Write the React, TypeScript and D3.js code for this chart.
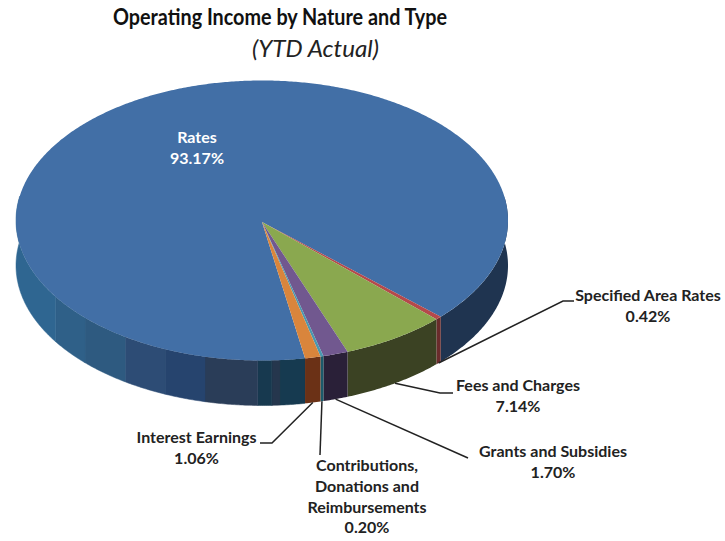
import React from "react";
import * as d3 from "d3";

// pie data, clockwise from the "Specified Area Rates" slice
const categories = [
  "Specified Area Rates",
  "Fees and Charges",
  "Grants and Subsidies",
  "Contributions, Donations and Reimbursements",
  "Interest Earnings",
  "Rates",
];
const values = [0.42, 7.14, 1.7, 0.2, 1.06, 93.17];

const topColors = ["#b5494b", "#8aa84f", "#71588f", "#4a98b0", "#d9853c", "#426fa6"];
const wallColors = ["#6a2c2c", "#3b4223", "#2a2038", "#1b5a6a", "#6b3116", "#1f3450"];

// shading bands on the long front wall of "Rates"
const bandStops = [175.8, 177.7, 181, 193.4, 203.2, 213.8, 226, 237];
const bandColors = ["#163a50", "#25364d", "#17394f", "#2a3d58", "#26446e", "#2d4c75", "#2e5a80", "#2f6088", "#2f6691"];
const wallShade = d3.scaleThreshold<number, string>().domain(bandStops).range(bandColors);

const labels: { lines: string[]; x: number; y: number; color?: string }[] = [
  { lines: ["Specified Area Rates", "0.42%"], x: 648, y: 301 },
  { lines: ["Fees and Charges", "7.14%"], x: 518, y: 391 },
  { lines: ["Grants and Subsidies", "1.70%"], x: 553, y: 457 },
  { lines: ["Contributions,", "Donations and", "Reimbursements", "0.20%"], x: 367, y: 471 },
  { lines: ["Interest Earnings", "1.06%"], x: 196.5, y: 443 },
  { lines: ["Rates", "93.17%"], x: 197, y: 143, color: "#ffffff" },
];

// leader line: elbow points after the rim anchor, ordered rim -> label
const leaders: ([number, number][] | null)[] = [
  [[563, 301], [574, 301]],
  [[440, 393], [453, 393]],
  [[468, 458]],
  [[320, 455]],
  [[272, 443], [260, 443]],
  null,
];

const cx = 262;
const cy = 220.5;
const apexY = 222;
const rx = 246;
const ry = 140;
const depth = 45;
const startDeg = 133.4;
const deg = Math.PI / 180;

// angle is clockwise from 12 o'clock, on the tilted disc
function project(a: number, drop = 0): [number, number] {
  return [cx + rx * Math.sin(a), cy - ry * Math.cos(a) + drop];
}

function sample(a0: number, a1: number, drop = 0): [number, number][] {
  const n = Math.max(2, Math.ceil(Math.abs(a1 - a0) / (0.5 * deg)));
  return d3.range(n + 1).map((i) => project(a0 + ((a1 - a0) * i) / n, drop));
}

const line = d3.line();

function wedgePath(a0: number, a1: number) {
  return line([[cx, apexY], ...sample(a0, a1)]) + "Z";
}

function wallPath(a0: number, a1: number) {
  return line([...sample(a0, a1), ...sample(a1, a0, depth)]) + "Z";
}

// The printed percentages add up to more than 100, so the sweep is left at
// 360deg per 100% and "Rates" simply runs under the first slices.
const startAngle = startDeg * deg;
const pie = d3
  .pie<number>()
  .sort(null)
  .startAngle(startAngle)
  .endAngle(startAngle + (Math.PI * 2 * d3.sum(values)) / 100);
const arcs = pie(values);

// pieces of the wall that face the viewer, in degrees
function visibleWalls(a0: number, a1: number) {
  const out: [number, number][] = [];
  [[80, 280], [440, 640]].forEach(([lo, hi]) => {
    const s = Math.max(a0 / deg, lo);
    const e = Math.min(a1 / deg, hi);
    if (e > s) out.push([s, e]);
  });
  return out;
}

const drawOrder = [5, 0, 1, 2, 3, 4];

export default function App() {
  const walls: React.ReactNode[] = [];
  drawOrder.forEach((i) => {
    visibleWalls(arcs[i].startAngle, arcs[i].endAngle).forEach(([s, e], k) => {
      if (i === 5 && k === 0) {
        // long stretch gets cut into shaded bands
        const cuts = [s, ...bandStops.filter((b) => b > s && b < e), e];
        d3.pairs(cuts).forEach(([c0, c1], j) => {
          walls.push(
            <path key={`w${i}-${j}`} d={wallPath(c0 * deg, c1 * deg)} fill={wallShade((c0 + c1) / 2)} stroke={wallShade((c0 + c1) / 2)} strokeWidth={0.5} />
          );
        });
      } else {
        walls.push(<path key={`w${i}-x${k}`} d={wallPath(s * deg, e * deg)} fill={wallColors[i]} />);
      }
    });
  });

  return (
    <svg width={725} height={541} style={{ position: "absolute", left: 0, top: 0, background: "#fff" }} fontFamily="Lato, sans-serif">
      <text x={113} y={25} fontSize={23} fontWeight={700} fill="#111" textLength={334} lengthAdjust="spacingAndGlyphs">
        Operating Income by Nature and Type
      </text>
      <text x={252} y={57} fontSize={24} fontStyle="italic" fill="#222" textLength={127} lengthAdjust="spacingAndGlyphs">
        (YTD Actual)
      </text>

      {walls}
      {drawOrder.map((i) => (
        <path
          key={categories[i]}
          d={wedgePath(arcs[i].startAngle, arcs[i].endAngle)}
          fill={topColors[i]}
        />
      ))}

      {arcs.map((d, i) => {
        const elbow = leaders[i];
        if (!elbow) return null;
        const mid = (d.startAngle + d.endAngle) / 2;
        return (
          <path
            key={`l${i}`}
            d={line([project(mid, depth), ...elbow]) ?? ""}
            fill="none"
            stroke="#222"
            strokeWidth={1.5}
          />
        );
      })}

      {labels.map((l) => (
        <text key={l.lines[0]} textAnchor="middle" fontSize={16} fontWeight={700} fill={l.color ?? "#222"}>
          {l.lines.map((t, j) => (
            <tspan key={j} x={l.x} y={l.y + j * 20.8}>
              {t}
            </tspan>
          ))}
        </text>
      ))}
    </svg>
  );
}
